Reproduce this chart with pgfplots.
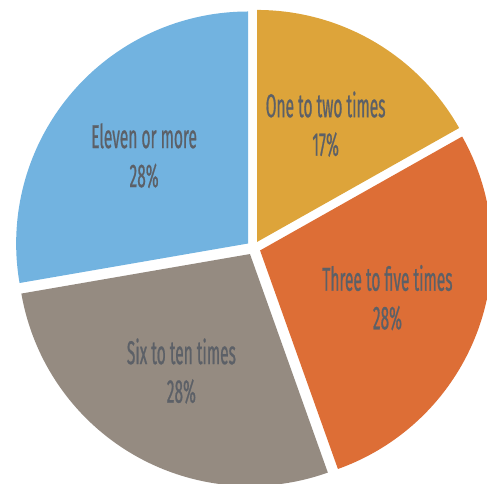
\documentclass[border=0pt]{standalone}
\usepackage{pgfplots}
\pgfplotsset{compat=1.18}
\usepackage{fontspec}
\setmainfont{Fira Sans}[FakeStretch=0.47, FakeBold=0.6]
\definecolor{cYellow}{HTML}{DDA43A}
\definecolor{cOrange}{HTML}{DD6E36}
\definecolor{cGray}{HTML}{958B81}
\definecolor{cBlue}{HTML}{72B3E0}
\definecolor{cText}{HTML}{5C6067}
% slice values (percent as labelled)
\def\vA{17}\def\vB{28}\def\vC{28}\def\vD{28}
\pgfmathsetmacro\vT{\vA+\vB+\vC+\vD}
\pgfmathsetmacro\aA{90}
\pgfmathsetmacro\aB{\aA-\vA/\vT*360}
\pgfmathsetmacro\aC{\aB-\vB/\vT*360}
\pgfmathsetmacro\aD{\aC-\vC/\vT*360}
\pgfmathsetmacro\aE{\aD-\vD/\vT*360}
\def\cx{253.5}\def\cy{236}\def\R{232}\def\off{7}\def\lr{143}
\newcommand\slice[3]{% start, end, color
  \pgfmathsetmacro\mid{(#1+#2)/2}
  \pgfmathsetmacro\ox{\cx+\off*cos(\mid)}
  \pgfmathsetmacro\oy{\cy+\off*sin(\mid)}
  \edef\tmp{\noexpand\addplot[fill=#3, draw=none, domain=#2:#1, samples=90, variable=\noexpand\t]
    ({\ox+\R*cos(\noexpand\t)},{\oy+\R*sin(\noexpand\t)}) -- (axis cs:\ox,\oy) -- cycle;}
  \tmp
}
\newcommand\slicelabel[4]{% start, end, name, pct
  \pgfmathsetmacro\mid{(#1+#2)/2}
  \pgfmathsetmacro\lx{\cx+\lr*cos(\mid)}
  \pgfmathsetmacro\ly{\cy+\lr*sin(\mid)}
  \edef\tmp{\noexpand\node[text=cText, font=\noexpand\fontsize{33}{35}\noexpand\selectfont] at (axis cs:\lx,\ly+20) {#3};
    \noexpand\node[text=cText, font=\noexpand\fontsize{33}{35}\noexpand\selectfont] at (axis cs:\lx,\ly-20) {#4};}
  \tmp
}
\begin{document}
\begin{tikzpicture}
\begin{axis}[
  name=pie,
  scale only axis, width=487pt, height=484pt,
  xmin=0, xmax=487, ymin=0, ymax=484,
  hide axis, clip=true,
]
\slice{\aA}{\aB}{cYellow}
\slice{\aB}{\aC}{cOrange}
\slice{\aC}{\aD}{cGray}
\slice{\aD}{\aE}{cBlue}
\slicelabel{\aA}{\aB}{One to two times}{17\%}
\slicelabel{\aB}{\aC}{Three to five times}{28\%}
\slicelabel{\aC}{\aD}{Six to ten times}{28\%}
\slicelabel{\aD}{\aE}{Eleven or more}{28\%}
\end{axis}
\pgfresetboundingbox
\path (pie.south west) rectangle (pie.north east);
\end{tikzpicture}
\end{document}
